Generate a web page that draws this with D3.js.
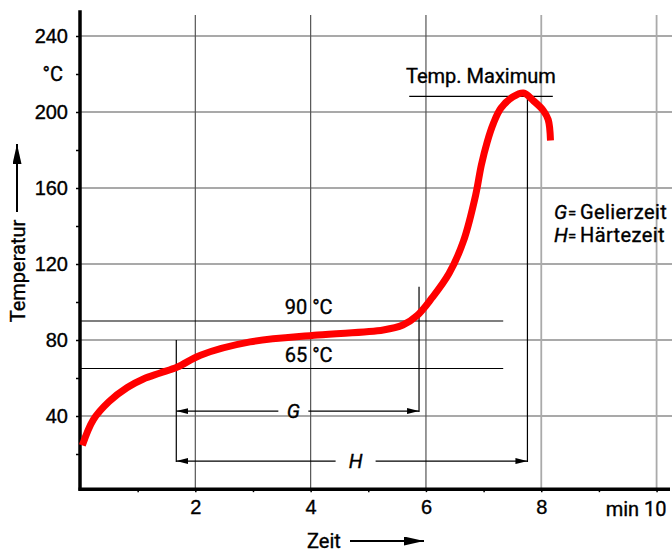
<!DOCTYPE html>
<html>
<head>
<meta charset="utf-8">
<script src="https://cdn.jsdelivr.net/npm/d3@7"></script>
<style>
  body { margin: 0; background: #fff; }
  svg { font-family: Roboto, "DejaVu Sans", sans-serif; }
  .grid line { stroke: #555; stroke-width: 1.2; }
  .lbl { font-size: 20px; fill: #000; stroke: #000; stroke-width: 0.35px; }
</style>
</head>
<body>
<div id="container"></div>
<script>
// curve: time in min, temperature in °C
const timeMin = [0.04, 0.23, 0.5, 0.82, 1.1, 1.39, 1.69, 2.09, 2.95, 4.12, 5.26, 5.6, 5.85, 6.1, 6.4, 6.65, 6.86, 6.96, 7.06, 7.17, 7.3, 7.51, 7.69, 7.86, 8.03, 8.12, 8.16];
const tempC = [24.5, 38, 47.5, 55, 59.5, 62.6, 65.8, 72, 79, 82.6, 85.3, 87.9, 93, 102, 115, 132, 156, 172, 184, 194, 202, 208, 210, 206, 201, 196, 185];

const xTicks = [2, 4, 6, 8, 10];
const xMinor = [1, 3, 5, 7, 9];
const yTicks = [40, 80, 120, 160, 200, 240];
const yMinor = [20, 60, 100, 140, 180, 220];

// reference lines and times
const refTemps = [90, 65];
const refEnd = 7.34;
const gStart = 1.67, gEnd = 5.88, hEnd = 7.76;
const tMax = 208.2, tMaxFrom = 5.71, tMaxTo = 8.2;
const gArrowT = 42.6, hArrowT = 16.3;

const W = 672, H = 552;
const svg = d3.select('#container').append('svg')
    .attr('width', W).attr('height', H);

const xScale = d3.scaleLinear().domain([0, 10.25]).range([80, 671]);
const yScale = d3.scaleLinear().domain([0, 255]).range([492, 7.5]);
const axisY = yScale(1.5);
const axisTop = yScale(253.5);

const defs = svg.append('defs');
defs.append('marker')
    .attr('id', 'arr')
    .attr('viewBox', '0 0 12 6')
    .attr('refX', 12).attr('refY', 3)
    .attr('markerWidth', 12).attr('markerHeight', 6)
    .attr('markerUnits', 'userSpaceOnUse')
    .attr('orient', 'auto-start-reverse')
    .append('path').attr('d', 'M0,0 L12,3 L0,6 Z').attr('fill', '#000');
defs.append('marker')
    .attr('id', 'bigArr')
    .attr('viewBox', '0 0 20 9')
    .attr('refX', 20).attr('refY', 4.5)
    .attr('markerWidth', 20).attr('markerHeight', 9)
    .attr('markerUnits', 'userSpaceOnUse')
    .attr('orient', 'auto')
    .append('path').attr('d', 'M0,0 L20,4.5 L0,9 Z').attr('fill', '#000');

// grid
const grid = svg.append('g').attr('class', 'grid');
grid.selectAll('.h').data(yTicks).enter().append('line')
    .attr('x1', xScale(0)).attr('x2', W)
    .attr('y1', d => yScale(d)).attr('y2', d => yScale(d));
grid.selectAll('.v').data(xTicks).enter().append('line')
    .attr('x1', d => xScale(d)).attr('x2', d => xScale(d))
    .attr('y1', yScale(251)).attr('y2', axisY)
    .style('stroke', d => d >= 8 ? '#aaa' : '#555')
    .style('stroke-width', d => d >= 8 ? 1.8 : 1.2);

// axes
svg.append('g')
    .attr('transform', `translate(${xScale(0)},0)`)
    .call(d3.axisLeft(yScale).tickValues(yTicks).tickSize(4).tickPadding(8));
svg.append('g')
    .attr('transform', `translate(${xScale(0)},0)`)
    .call(d3.axisLeft(yScale).tickValues(yMinor).tickSize(4).tickFormat(''));
svg.append('g')
    .attr('transform', `translate(0,${axisY})`)
    .call(d3.axisBottom(xScale).tickValues(xTicks).tickSize(3).tickPadding(8)
        .tickFormat(d => d === 10 ? '' : d));
svg.append('g')
    .attr('transform', `translate(0,${axisY})`)
    .call(d3.axisBottom(xScale).tickValues(xMinor).tickSize(3).tickFormat(''));
svg.selectAll('.domain').remove();
svg.selectAll('.tick line').attr('stroke', '#000').attr('stroke-width', 1.5);
svg.selectAll('.tick text').attr('class', 'lbl').attr('font-family', null).attr('font-size', null);

svg.append('line')
    .attr('x1', xScale(0)).attr('x2', xScale(0))
    .attr('y1', axisTop).attr('y2', axisY + 1.5)
    .attr('stroke', '#000').attr('stroke-width', 3.5);
svg.append('line')
    .attr('x1', xScale(0) - 1.5).attr('x2', 670)
    .attr('y1', axisY).attr('y2', axisY)
    .attr('stroke', '#000').attr('stroke-width', 3.5);

svg.append('text').attr('class', 'lbl')
    .attr('x', xScale(10) + 10).attr('y', axisY + 27)
    .attr('text-anchor', 'end').text('min 10');
svg.append('text').attr('class', 'lbl')
    .attr('x', 63).attr('y', yScale(220) + 7)
    .attr('text-anchor', 'end').text('°C');

// axis titles with arrows
svg.append('text').attr('class', 'lbl')
    .attr('transform', `translate(25, 271) rotate(-90)`)
    .attr('text-anchor', 'middle').text('Temperatur');
svg.append('line')
    .attr('x1', 17).attr('x2', 17).attr('y1', 212).attr('y2', 144)
    .attr('stroke', '#000').attr('stroke-width', 2)
    .attr('marker-end', 'url(#bigArr)');
svg.append('text').attr('class', 'lbl')
    .attr('x', 307).attr('y', 548).text('Zeit');
svg.append('line')
    .attr('x1', 350).attr('x2', 424).attr('y1', 541).attr('y2', 541)
    .attr('stroke', '#000').attr('stroke-width', 2)
    .attr('marker-end', 'url(#bigArr)');

// annotations
const ann = svg.append('g').attr('stroke', '#000').attr('stroke-width', 1.2);
ann.selectAll('.ref').data(refTemps).enter().append('line')
    .attr('x1', xScale(0)).attr('x2', xScale(refEnd))
    .attr('y1', d => yScale(d)).attr('y2', d => yScale(d));
svg.selectAll('.refl').data(refTemps).enter().append('text')
    .attr('class', 'lbl')
    .attr('x', xScale(3.55)).attr('y', d => yScale(d) - 7)
    .text(d => d + ' °C');

ann.append('line')
    .attr('x1', xScale(gStart)).attr('x2', xScale(gStart))
    .attr('y1', yScale(80)).attr('y2', yScale(hArrowT) + 1);
ann.append('line')
    .attr('x1', xScale(gEnd)).attr('x2', xScale(gEnd))
    .attr('y1', yScale(108)).attr('y2', yScale(gArrowT) + 1);
ann.append('line')
    .attr('x1', xScale(hEnd)).attr('x2', xScale(hEnd))
    .attr('y1', yScale(tMax)).attr('y2', yScale(hArrowT) + 1);
ann.append('line')
    .attr('x1', xScale(tMaxFrom)).attr('x2', xScale(tMaxTo))
    .attr('y1', yScale(tMax)).attr('y2', yScale(tMax));

const dims = [
    { name: 'G', t: gArrowT, from: gStart, to: gEnd, at: 3.7, gap: 15 },
    { name: 'H', t: hArrowT, from: gStart, to: hEnd, at: 4.78, gap: 20 }
];
dims.forEach(d => {
    const cx = xScale(d.at), y = yScale(d.t);
    ann.append('line')
        .attr('x1', cx - d.gap).attr('x2', xScale(d.from)).attr('y1', y).attr('y2', y)
        .attr('marker-end', 'url(#arr)');
    ann.append('line')
        .attr('x1', cx + d.gap).attr('x2', xScale(d.to)).attr('y1', y).attr('y2', y)
        .attr('marker-end', 'url(#arr)');
    svg.append('text').attr('class', 'lbl')
        .attr('x', cx).attr('y', y + 7)
        .attr('text-anchor', 'middle').attr('font-style', 'italic')
        .text(d.name);
});

svg.append('text').attr('class', 'lbl')
    .attr('x', 406).attr('y', 83).text('Temp. Maximum');

const legend = svg.append('g');
[['G', 'Gelierzeit', 219], ['H', 'Härtezeit', 242]].forEach(r => {
    legend.append('text').attr('class', 'lbl').attr('x', 554).attr('y', r[2])
        .attr('font-style', 'italic').text(r[0]);
    legend.append('text').attr('class', 'lbl').attr('x', 568).attr('y', r[2] - 1)
        .style('font-size', '15px').text('=');
    legend.append('text').attr('class', 'lbl').attr('x', 580).attr('y', r[2])
        .style('letter-spacing', '0.4px').text(r[1]);
});

// temperature curve
const line = d3.line()
    .x((d, i) => xScale(timeMin[i]))
    .y(d => yScale(d))
    .curve(d3.curveCatmullRom.alpha(0.5));
svg.append('path')
    .datum(tempC)
    .attr('d', line)
    .attr('fill', 'none')
    .attr('stroke', '#ff0000')
    .attr('stroke-width', 7)
    .attr('stroke-linecap', 'butt');
</script>
</body>
</html>
